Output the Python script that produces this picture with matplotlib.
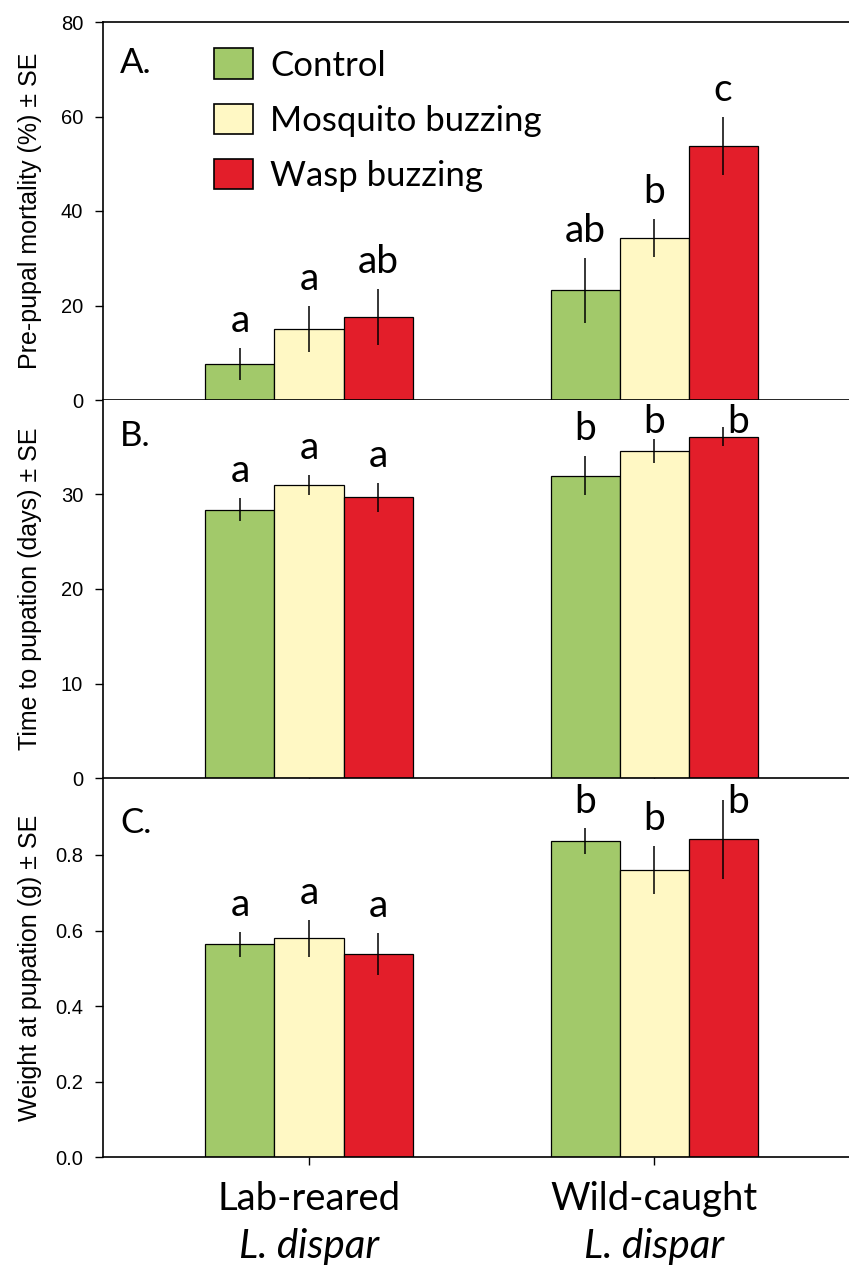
import numpy as np
import matplotlib.pyplot as plt
from matplotlib.patches import Patch
from matplotlib.transforms import blended_transform_factory

plt.rcParams['font.family'] = ['Liberation Sans', 'DejaVu Sans']

# data
groups = ['Lab-reared', 'Wild-caught']
species = 'L. dispar'
treatments = ['Control', 'Mosquito buzzing', 'Wasp buzzing']
colors = ['#A2C96A', '#FFF8C4', '#E31E2A']

# rows = groups, cols = treatments
mort_mean = [[7.6, 15.0, 17.6], [23.2, 34.3, 53.8]]
mort_se = [[3.4, 4.9, 5.9], [6.9, 4.0, 6.1]]
mort_let = [['a', 'a', 'ab'], ['ab', 'b', 'c']]

days_mean = [[28.4, 31.0, 29.7], [32.0, 34.6, 36.1]]
days_se = [[1.2, 1.05, 1.55], [2.1, 1.3, 1.0]]
days_let = [['a', 'a', 'a'], ['b', 'b', 'b']]

wt_mean = [[0.563, 0.580, 0.538], [0.837, 0.760, 0.841]]
wt_se = [[0.033, 0.049, 0.055], [0.034, 0.063, 0.105]]
wt_let = [['a', 'a', 'a'], ['b', 'b', 'b']]

panels = [
    ('A.', mort_mean, mort_se, mort_let, 'Pre-pupal mortality (%) ± SE', 80, [0, 20, 40, 60, 80], '%d'),
    ('B.', days_mean, days_se, days_let, 'Time to pupation (days) ± SE', 40, [0, 10, 20, 30], '%d'),
    ('C.', wt_mean, wt_se, wt_let, 'Weight at pupation (g) ± SE', 1.0, [0, 0.2, 0.4, 0.6, 0.8], '%.1f'),
]

W, H = 849, 1268
fig = plt.figure(figsize=(W / 100, H / 100), dpi=100)
left = 103 / W
ah = 378 / H
bottoms = [(H - 400) / H, (H - 778) / H, (H - 1157.3) / H]

bw = 0.2
gx = np.arange(1, len(groups) + 1)
letter_font = dict(family='Lato', size=28)

axes = []
for k, (tag, mean, se, lets, ylab, ytop, yticks, fmt) in enumerate(panels):
    ax = fig.add_axes([left, bottoms[k], 1 - left, ah])
    axes.append(ax)
    mean = np.array(mean)
    se = np.array(se)
    for i, t in enumerate(treatments):
        xs = gx + (i - 1) * bw
        ax.bar(xs, mean[:, i], width=bw, color=colors[i], edgecolor='black',
               linewidth=0.9, label=t, zorder=2)
        ax.errorbar(xs, mean[:, i], yerr=se[:, i], fmt='none', ecolor='black',
                    elinewidth=1.1, capsize=0, zorder=3)
        for g in range(len(groups)):
            top = mean[g, i] + se[g, i]
            yb = top + 0.042 * ytop
            cap = ytop - 0.088 * ytop
            x = xs[g]
            if yb > cap:
                yb = cap
                if yb < top:
                    x += 0.045
            ax.text(x, yb, lets[g][i], ha='center', va='baseline', **letter_font)

    ax.set_xlim(0.403, 2.565)
    ax.set_ylim(0, ytop)
    ax.set_yticks(yticks)
    ax.set_yticklabels([fmt % v for v in yticks])
    ax.tick_params(axis='y', direction='out', length=5.8, width=1, labelsize=14.5, pad=8.5)
    ax.set_ylabel(ylab, fontsize=18)
    ax.yaxis.set_label_coords(-0.082, 0.5)
    ax.spines['right'].set_visible(False)
    for s in ['left', 'bottom', 'top']:
        ax.spines[s].set_linewidth(1.2)
    if k > 0:
        ax.spines['top'].set_visible(False)
    ax.set_xticks(gx)
    ax.set_xticklabels([])
    if k == 0:
        ax.tick_params(axis='x', length=0)
    else:
        ax.tick_params(axis='x', direction='out', length=5.5, width=1)
    ax.text(0.023, [0.934, 0.946, 0.928][k], tag, transform=ax.transAxes,
            ha='left', va='top', family='Lato', size=25)

# legend in panel A
handles = [Patch(facecolor=c, edgecolor='black', linewidth=1.2) for c in colors]
axes[0].legend(handles, treatments, loc='upper left', bbox_to_anchor=(0.149, 0.93),
               frameon=False, prop={'family': 'Lato', 'size': 25}, handlelength=1.12,
               handleheight=0.98, handletextpad=0.5, labelspacing=0.63, borderpad=0,
               borderaxespad=0)

# group labels under the bottom panel
axc = axes[2]
tr = blended_transform_factory(axc.transData, axc.transAxes)
for g, name in zip(gx, groups):
    axc.text(g, -0.139, name, transform=tr, ha='center', va='baseline',
             family='Lato', size=27.5)
    axc.text(g, -0.267, species, transform=tr, ha='center', va='baseline',
             family='Lato', style='italic', size=29)

fig.savefig('out.png', dpi=100)
